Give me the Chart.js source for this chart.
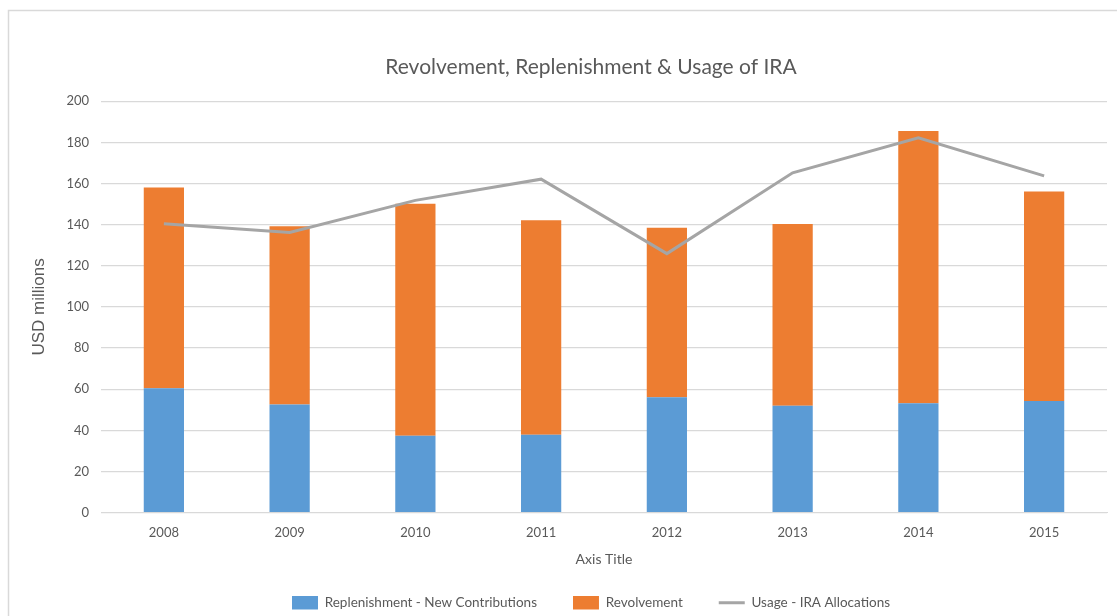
<!DOCTYPE html>
<html>
<head>
<meta charset="utf-8">
<script src="https://cdn.jsdelivr.net/npm/chart.js@4/dist/chart.umd.min.js"></script>
<style>
  html, body { margin: 0; padding: 0; background: #fff; overflow: hidden; }
  #wrap { width: 1172px; height: 616px; position: relative; }
</style>
</head>
<body>
<div id="wrap"><canvas id="chart"></canvas></div>
<script>
const years = ['2008', '2009', '2010', '2011', '2012', '2013', '2014', '2015']
const replenishment = [60.4, 52.5, 37.3, 37.8, 56.1, 52.0, 53.2, 54.3]
const revolvement = [97.7, 86.7, 112.9, 104.3, 82.4, 88.3, 132.3, 101.8]
const usage = [140.4, 136.2, 151.8, 162.1, 125.9, 165.2, 182.2, 163.7]

const textColor = '#595959'
const baseFont = 'Lato, "Liberation Sans", sans-serif'

// light frame around the chart, like the office chart border
const frame = {
  id: 'frame',
  beforeDraw(chart) {
    const c = chart.ctx
    c.save()
    c.strokeStyle = '#d9d9d9'
    c.lineWidth = 1.5
    c.strokeRect(8.5, 10.5, 1300, 700)
    c.restore()
  }
}

new Chart(document.getElementById('chart').getContext('2d'), {
  data: {
    labels: years,
    datasets: [
      {
        type: 'bar',
        label: 'Replenishment - New Contributions',
        data: replenishment,
        backgroundColor: '#5b9bd5',
        order: 1
      },
      {
        type: 'bar',
        label: 'Revolvement',
        data: revolvement,
        backgroundColor: '#ed7d31',
        order: 1
      },
      {
        type: 'line',
        label: 'Usage - IRA Allocations',
        data: usage,
        borderColor: '#a5a5a5',
        backgroundColor: '#a5a5a5',
        borderWidth: 3,
        pointRadius: 0,
        tension: 0,
        order: 0
      }
    ]
  },
  options: {
    responsive: true,
    maintainAspectRatio: false,
    animation: false,
    layout: { padding: { left: 10, right: 0, top: 55, bottom: 0 } },
    datasets: {
      bar: { categoryPercentage: 1, barPercentage: 0.32 }
    },
    plugins: {
      title: {
        display: true,
        text: 'Revolvement, Replenishment & Usage of IRA',
        color: textColor,
        font: { family: baseFont, size: 21, weight: 'normal' },
        padding: { top: 0, bottom: 21 }
      },
      legend: {
        position: 'bottom',
        maxHeight: 56,
        labels: {
          color: textColor,
          font: { family: baseFont, size: 13.5 },
          usePointStyle: true,
          pointStyleWidth: 26,
          boxHeight: 14,
          padding: 36,
          sort: (a, b) => a.datasetIndex - b.datasetIndex,
          generateLabels(chart) {
            const items = Chart.defaults.plugins.legend.labels.generateLabels(chart)
            items.forEach(it => {
              if (it.datasetIndex < 2) {
                it.pointStyle = 'rect'
                it.lineWidth = 0
              } else {
                it.pointStyle = 'line'
                it.lineWidth = 3
                it.strokeStyle = '#a5a5a5'
              }
            })
            return items
          }
        }
      },
      tooltip: { enabled: false }
    },
    scales: {
      x: {
        stacked: true,
        grid: { display: false },
        border: { color: '#d9d9d9' },
        ticks: { color: textColor, font: { family: baseFont, size: 13 }, padding: 4 },
        title: {
          display: true,
          text: 'Axis Title',
          color: textColor,
          font: { family: baseFont, size: 14 },
          padding: { top: 7, bottom: -8 }
        }
      },
      y: {
        stacked: true,
        min: 0,
        max: 200,
        afterFit: s => { s.width = 91 },
        ticks: { stepSize: 20, color: textColor, font: { family: baseFont, size: 13 }, padding: 12 },
        grid: { color: '#d9d9d9', lineWidth: 1.2, drawTicks: false },
        border: { display: false },
        title: {
          display: true,
          text: 'USD millions',
          color: textColor,
          font: { family: '"Liberation Sans", Arial, sans-serif', size: 17 },
          padding: { top: 19, bottom: 6 }
        }
      },
      // empty right-hand spacer so the plot ends where the picture is cut
      spacer: {
        position: 'right',
        min: 0,
        max: 1,
        afterFit: s => { s.width = 65 },
        ticks: { display: false },
        grid: { display: false },
        border: { display: false }
      }
    }
  },
  plugins: [frame]
})
</script>
</body>
</html>
